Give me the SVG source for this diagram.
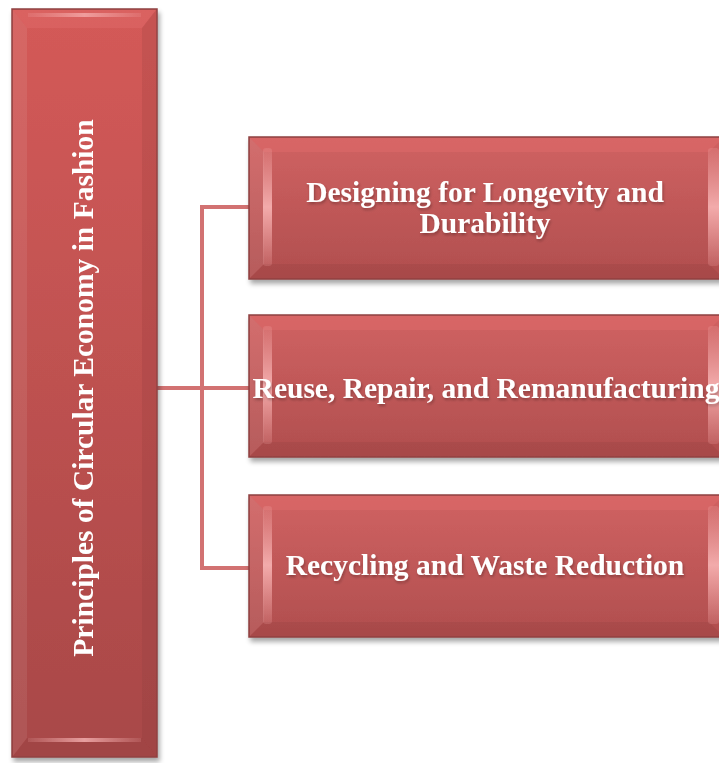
<svg xmlns="http://www.w3.org/2000/svg" width="719" height="763" viewBox="0 0 719 763">
<defs>
<linearGradient id="gv" x1="0" y1="0" x2="0" y2="1">
<stop offset="0" stop-color="#d06262"/>
<stop offset="1" stop-color="#b04e4e"/>
</linearGradient>
<linearGradient id="gl" x1="0" y1="0" x2="0" y2="1">
<stop offset="0" stop-color="#d45a58"/>
<stop offset="1" stop-color="#a84848"/>
</linearGradient>
<linearGradient id="hl" x1="0" y1="0" x2="1" y2="0">
<stop offset="0" stop-color="#f4a8a8" stop-opacity="0.2"/>
<stop offset="0.5" stop-color="#f8b4b4" stop-opacity="0.9"/>
<stop offset="1" stop-color="#f4a8a8" stop-opacity="0.2"/>
</linearGradient>
<linearGradient id="hv" x1="0" y1="0" x2="0" y2="1">
<stop offset="0" stop-color="#f4a8a8" stop-opacity="0.2"/>
<stop offset="0.5" stop-color="#f8b4b4" stop-opacity="0.9"/>
<stop offset="1" stop-color="#f4a8a8" stop-opacity="0.2"/>
</linearGradient>
<filter id="sh" x="-5%" y="-5%" width="115%" height="120%">
<feGaussianBlur in="SourceAlpha" stdDeviation="2.5"/>
<feOffset dx="2" dy="4" result="b"/>
<feComponentTransfer><feFuncA type="linear" slope="0.35"/></feComponentTransfer>
<feMerge><feMergeNode/><feMergeNode in="SourceGraphic"/></feMerge>
</filter>
<filter id="ts" x="-5%" y="-20%" width="110%" height="150%">
<feGaussianBlur in="SourceAlpha" stdDeviation="1.5"/>
<feOffset dx="1" dy="2"/>
<feComponentTransfer><feFuncA type="linear" slope="0.28"/></feComponentTransfer>
<feMerge><feMergeNode/><feMergeNode in="SourceGraphic"/></feMerge>
</filter>
</defs>
<style>
.box{fill:url(#gv);stroke:#8e4040;stroke-width:1.5}
.lbox{fill:url(#gl);stroke:#8e4040;stroke-width:1.5}
.bt{fill:#e06a6a;opacity:0.5}
.bd{fill:#7a2e2e;opacity:0.15}
.bl{fill:#ffffff;opacity:0.08}
.txt{font-family:"Liberation Serif","Times New Roman",serif;font-weight:bold;font-size:29.5px;fill:#ffffff;text-anchor:middle}
.conn{fill:none;stroke:#d27272;stroke-width:4}
</style>
<g id="connectors">
<line class="conn" x1="157" y1="388" x2="251" y2="388"/>
<polyline class="conn" points="251,207 202,207 202,568 251,568"/>
</g>
<g id="main" filter="url(#sh)">
<rect class="lbox" x="12" y="9" width="145" height="748"/>
<polygon class="bt" points="13,10 156,10 142,28 27,28"/>
<rect x="28" y="13" width="113" height="4" fill="url(#hl)" opacity="0.8"/>
<polygon class="bl" points="13,10 27,28 27,738 13,756"/>
<polygon class="bd" points="156,10 156,756 142,738 142,28"/>
<polygon class="bd" points="13,756 156,756 142,738 27,738"/>
<rect x="28" y="738" width="113" height="4" fill="url(#hl)" opacity="0.9"/>
<text class="txt" transform="translate(93,388) rotate(-90)" text-anchor="middle">Principles of Circular Economy in Fashion</text>
</g>
<g id="n1" filter="url(#sh)">
<rect class="box" x="249" y="137" width="475" height="142"/>
<polygon class="bt" points="250,138 723,138 709,152 264,152"/>
<polygon class="bl" points="250,138 264,152 264,264 250,278"/>
<polygon class="bd" points="250,278 723,278 709,264 264,264"/>
<rect x="263" y="148" width="9" height="118" rx="3" fill="url(#hv)"/>
<rect x="708" y="148" width="11" height="118" rx="3" fill="url(#hv)"/>
<text class="txt" filter="url(#ts)"><tspan x="485" y="202">Designing for Longevity and</tspan><tspan x="485" y="233">Durability</tspan></text>
</g>
<g id="n2" filter="url(#sh)">
<rect class="box" x="249" y="315" width="475" height="142"/>
<polygon class="bt" points="250,316 723,316 709,330 264,330"/>
<polygon class="bl" points="250,316 264,330 264,442 250,456"/>
<polygon class="bd" points="250,456 723,456 709,442 264,442"/>
<rect x="263" y="326" width="9" height="118" rx="3" fill="url(#hv)"/>
<rect x="708" y="326" width="11" height="118" rx="3" fill="url(#hv)"/>
<text class="txt" filter="url(#ts)" x="486" y="398">Reuse, Repair, and Remanufacturing</text>
</g>
<g id="n3" filter="url(#sh)">
<rect class="box" x="249" y="495" width="475" height="142"/>
<polygon class="bt" points="250,496 723,496 709,510 264,510"/>
<polygon class="bl" points="250,496 264,510 264,622 250,636"/>
<polygon class="bd" points="250,636 723,636 709,622 264,622"/>
<rect x="263" y="506" width="9" height="118" rx="3" fill="url(#hv)"/>
<rect x="708" y="506" width="11" height="118" rx="3" fill="url(#hv)"/>
<text class="txt" filter="url(#ts)" x="485" y="575">Recycling and Waste Reduction</text>
</g>
</svg>
